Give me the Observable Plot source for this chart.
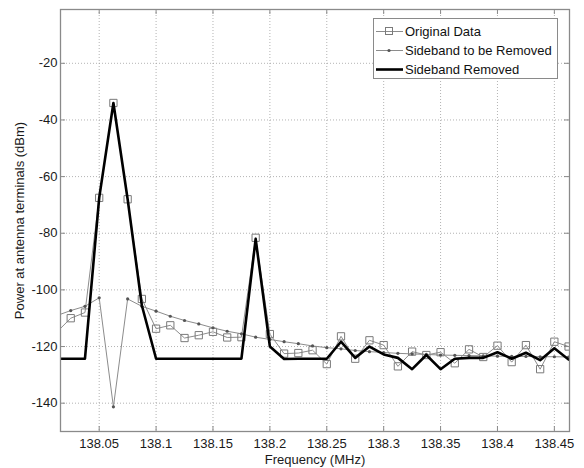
<!DOCTYPE html>
<html>
<head>
<meta charset="utf-8">
<script src="https://cdn.jsdelivr.net/npm/d3@7"></script>
<script src="https://cdn.jsdelivr.net/npm/@observablehq/plot@0.6"></script>
<style>
  html, body { margin: 0; padding: 0; background: #fff; }
  #chart { position: relative; width: 584px; height: 468px; font-family: Arial, "Liberation Sans", sans-serif; }
  #legend { position: absolute; left: 373px; top: 18px; width: 185px; height: 61px; box-sizing: border-box;
            border: 1px solid #8a8a8a; background: #fff; font-size: 13px; color: #111; }
  #legend .row { position: absolute; left: 0; height: 19px; display: flex; align-items: center; }
  #legend svg { display: block; }
  #legend span { margin-left: 1px; white-space: nowrap; }
</style>
</head>
<body>
<div id="chart"></div>
<script>
// Spectrum around the carrier, frequency in MHz, power in dBm
const freqs = [
  138.0125, 138.025, 138.0375, 138.05, 138.0625, 138.075, 138.0875, 138.1, 138.1125, 138.125,
  138.1375, 138.15, 138.1625, 138.175, 138.1875, 138.2, 138.2125, 138.225, 138.2375, 138.25,
  138.2625, 138.275, 138.2875, 138.3, 138.3125, 138.325, 138.3375, 138.35, 138.3625, 138.375,
  138.3875, 138.4, 138.4125, 138.425, 138.4375, 138.45, 138.4625
];
const originalDbm = [
  -115, -110, -108, -67.5, -34, -68, -103.2, -113.7, -112.5, -117,
  -116, -114.8, -116.8, -116.7, -81.6, -115.6, -122.5, -122.3, -121.3, -126.2,
  -116.4, -124.3, -117.8, -119.5, -127, -121.8, -123, -122, -125.9, -121,
  -123.7, -119.7, -125.5, -119.5, -128, -118.3, -120
];
const sidebandDbm = [
  -109.1, -107.3, -105.8, -102.8, -141.3, -103.2, -105.8, -107.5, -109.3, -110.8,
  -112, -113.4, -114.6, -115.5, -116.7, -117.5, -118.3, -119, -119.8, -120.4,
  -120.8, -121.4, -121.8, -122.1, -122.4, -122.6, -122.8, -123, -123.1, -123.2,
  -123.3, -123.4, -123.5, -123.5, -123.6, -123.6, -123.7
];
const removedDbm = [
  -124.3, -124.3, -124.3, -67.5, -34, -68, -105.5, -124.3, -124.3, -124.3,
  -124.3, -124.3, -124.3, -124.3, -82, -120, -124.4, -124.3, -124.3, -124.3,
  -118.3, -124, -120, -122.8, -124, -128, -123, -128, -124.3, -124,
  -124, -122, -124.3, -122.2, -124.8, -120.6, -124.6
];
const xTicks = [138.05, 138.1, 138.15, 138.2, 138.25, 138.3, 138.35, 138.4, 138.45];
const yTicks = [-140, -120, -100, -80, -60, -40, -20];
const seriesNames = ["Original Data", "Sideband to be Removed", "Sideband Removed"];

const rows = freqs.map((f, i) => ({f, orig: originalDbm[i], side: sidebandDbm[i], rem: removedDbm[i]}));

const W = 584, H = 468;
const mL = 60, mR = 15, mT = 9, mB = 37;
const innerW = W - mL - mR, innerH = H - mT - mB;
const tickLen = 5;
const axisGray = "#8a8a8a";
const lineGray = "#8c8c8c";

const fmtX = d => String(+d.toFixed(2));
const fmtY = d => String(d); // plain hyphen-minus

const chart = Plot.plot({
  width: W,
  height: H,
  marginLeft: mL, marginRight: mR, marginTop: mT, marginBottom: mB,
  style: {fontFamily: "Arial, 'Liberation Sans', sans-serif", fontSize: "13px", color: "#1a1a1a", background: "#fff"},
  x: {domain: [138.016, 138.4633], ticks: xTicks, tickFormat: fmtX},
  y: {domain: [-150, -1], ticks: yTicks, tickFormat: fmtY},
  marks: [
    Plot.gridX(xTicks, {stroke: "#9a9a9a", strokeOpacity: 0.75, strokeDasharray: "1,2"}),
    Plot.gridY(yTicks, {stroke: "#9a9a9a", strokeOpacity: 0.75, strokeDasharray: "1,2"}),
    Plot.axisX(xTicks, {tickSize: 0, tickPadding: 7, tickFormat: fmtX, fontSize: 13,
      label: "Frequency (MHz)", labelAnchor: "center", labelArrow: "none", labelOffset: 32}),
    Plot.axisY(yTicks, {tickSize: 0, tickPadding: 3, tickFormat: fmtY, fontSize: 13,
      label: "Power at antenna terminals (dBm)", labelAnchor: "center", labelArrow: "none", labelOffset: 46}),
    // inward tick marks on all four sides
    Plot.tickX(xTicks, {x: d => d, stroke: axisGray, insetTop: innerH - tickLen}),
    Plot.tickX(xTicks, {x: d => d, stroke: axisGray, insetBottom: innerH - tickLen}),
    Plot.tickY(yTicks, {y: d => d, stroke: axisGray, insetRight: innerW - tickLen}),
    Plot.tickY(yTicks, {y: d => d, stroke: axisGray, insetLeft: innerW - tickLen}),
    // original spectrum
    Plot.line(rows, {x: "f", y: "orig", stroke: lineGray, strokeWidth: 1, clip: true}),
    Plot.dot(rows, {x: "f", y: "orig", symbol: "square", r: 4.1, stroke: "#7a7a7a", strokeWidth: 1, fill: "none", clip: true}),
    // sideband model
    Plot.line(rows, {x: "f", y: "side", stroke: lineGray, strokeWidth: 1, clip: true}),
    Plot.dot(rows, {x: "f", y: "side", r: 1.6, fill: "#555", stroke: "none", clip: true}),
    // spectrum after removal
    Plot.line(rows, {x: "f", y: "rem", stroke: "#000", strokeWidth: 2.6, clip: true}),
    Plot.frame({stroke: axisGray, strokeWidth: 1.3})
  ]
});

const holder = document.getElementById("chart");
holder.appendChild(chart);

// legend box in the upper right corner
const legend = document.createElement("div");
legend.id = "legend";
const samples = [
  `<line x1="2" y1="9.5" x2="29" y2="9.5" stroke="${lineGray}"/><rect x="11.5" y="5.5" width="7" height="7" fill="none" stroke="#7a7a7a"/>`,
  `<line x1="2" y1="9.5" x2="29" y2="9.5" stroke="${lineGray}"/><circle cx="15" cy="9.5" r="1.6" fill="#555"/>`,
  `<line x1="2" y1="9.5" x2="29" y2="9.5" stroke="#000" stroke-width="2.6"/>`
];
seriesNames.forEach((name, i) => {
  const row = document.createElement("div");
  row.className = "row";
  row.style.top = (3 + i * 19) + "px";
  row.innerHTML = `<svg width="30" height="19">${samples[i]}</svg><span>${name}</span>`;
  legend.appendChild(row);
});
holder.appendChild(legend);
</script>
</body>
</html>
